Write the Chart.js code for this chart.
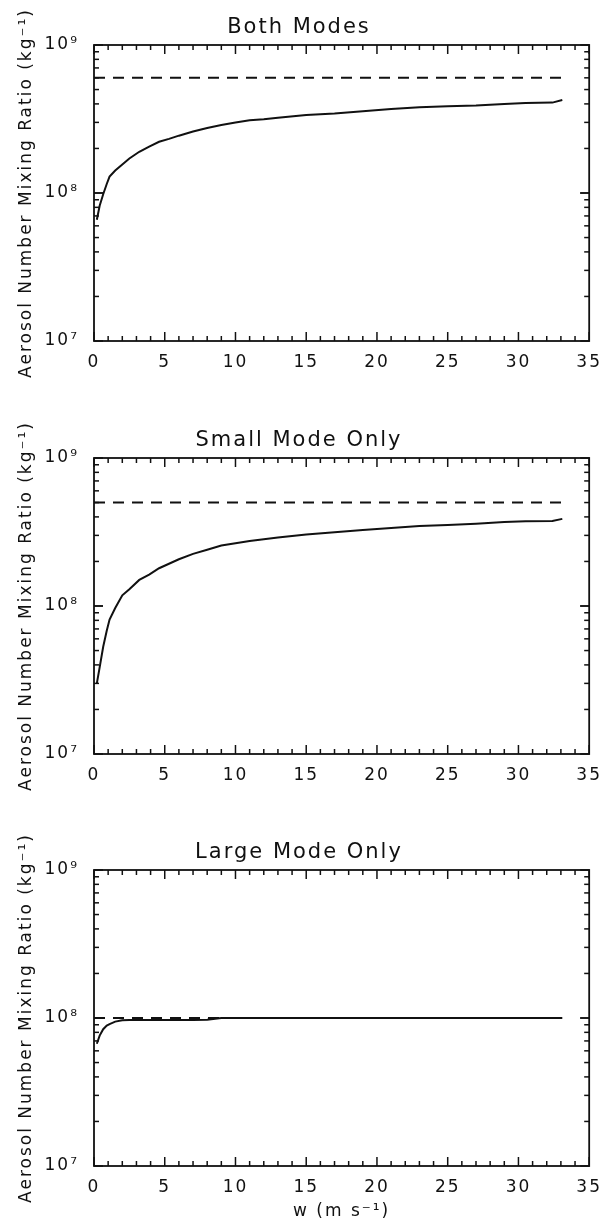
<!DOCTYPE html>
<html>
<head>
<meta charset="utf-8">
<script src="https://cdn.jsdelivr.net/npm/chart.js@4.4.1/dist/chart.umd.min.js"></script>
<style>
  html, body { margin: 0; padding: 0; background: #fff; }
  body { width: 611px; height: 1228px; position: relative; overflow: hidden; }
  canvas { position: absolute; left: 0; }
</style>
</head>
<body>
<canvas id="both" width="611" height="403" style="top:0"></canvas>
<canvas id="small" width="611" height="403" style="top:413px"></canvas>
<canvas id="large" width="611" height="403" style="top:825px"></canvas>
<script>
// updraft speed w (m s-1), shared by all three panels
const w = [0.2, 0.4, 0.65, 0.9, 1.1, 1.5, 2, 2.5, 3.2, 3.9, 4.6, 5.3, 6, 7, 8, 9, 10,
  11, 12, 13, 15, 17, 19, 21, 23, 25, 27, 29, 30.5, 32.4, 33.1];

// aerosol number mixing ratio (kg-1), solid curves
const bothModes = [6.6e7, 8.2e7, 9.8e7, 1.15e8, 1.29e8, 1.42e8, 1.56e8, 1.71e8, 1.9e8, 2.06e8,
  2.22e8, 2.32e8, 2.44e8, 2.6e8, 2.75e8, 2.88e8, 2.99e8, 3.1e8, 3.15e8, 3.23e8, 3.37e8, 3.45e8,
  3.57e8, 3.69e8, 3.8e8, 3.85e8, 3.9e8, 4.0e8, 4.05e8, 4.08e8, 4.25e8];
const smallMode = [3.0e7, 3.85e7, 5.3e7, 6.8e7, 8.1e7, 9.7e7, 1.18e8, 1.3e8, 1.5e8, 1.63e8,
  1.8e8, 1.93e8, 2.07e8, 2.25e8, 2.4e8, 2.56e8, 2.65e8, 2.75e8, 2.83e8, 2.9e8, 3.04e8, 3.15e8,
  3.26e8, 3.37e8, 3.47e8, 3.52e8, 3.6e8, 3.7e8, 3.74e8, 3.75e8, 3.88e8];
const largeMode = [6.7e7, 7.6e7, 8.4e7, 8.9e7, 9.1e7, 9.45e7, 9.65e7, 9.7e7, 9.7e7, 9.7e7,
  9.7e7, 9.7e7, 9.7e7, 9.7e7, 9.75e7, 1e8, 1e8, 1e8, 1e8, 1e8, 1e8, 1e8,
  1e8, 1e8, 1e8, 1e8, 1e8, 1e8, 1e8, 1e8, 1e8];

// dashed reference levels
const dashW = [0, 33.1];
const bothLimit = 6.0e8;
const smallLimit = 5.0e8;
const largeLimit = 1.0e8;

const yTickValues = [1e7, 1e8, 1e9];
const yTickLabels = ['10⁷', '10⁸', '10⁹'];

const INK = '#111';
const FONT = "'DejaVu Sans', sans-serif";
const Y_TITLE = 'Aerosol Number Mixing Ratio (kg⁻¹)';

// wide Hershey-like lettering
const spacing = {
  id: 'spacing',
  beforeDraw(chart) { chart.ctx.letterSpacing = '2px'; }
};

function tickLine(ctx, x0, y0, x1, y1) {
  ctx.beginPath();
  ctx.moveTo(x0, y0);
  ctx.lineTo(x1, y1);
  ctx.stroke();
}

// box with inward ticks on all four sides
const idlFrame = {
  id: 'idlFrame',
  afterDraw(chart) {
    const ctx = chart.ctx;
    const a = chart.chartArea;
    const xs = chart.scales.x;
    const ys = chart.scales.y;
    ctx.save();
    ctx.setLineDash([]);
    ctx.strokeStyle = INK;
    ctx.lineWidth = 1.8;
    ctx.strokeRect(a.left, a.top, a.right - a.left, a.bottom - a.top);
    ctx.lineWidth = 1.5;
    for (let v = 0; v <= 35; v += 1) {
      const px = xs.getPixelForValue(v);
      const len = v % 5 === 0 ? 9 : 5;
      tickLine(ctx, px, a.bottom, px, a.bottom - len);
      tickLine(ctx, px, a.top, px, a.top + len);
    }
    for (let d = 7; d <= 8; d += 1) {
      for (let m = 1; m <= 10; m += 1) {
        const py = ys.getPixelForValue(m * Math.pow(10, d));
        const len = (m === 1 || m === 10) ? 9 : 5;
        tickLine(ctx, a.left, py, a.left + len, py);
        tickLine(ctx, a.right, py, a.right - len, py);
      }
    }
    ctx.restore();
  }
};

function makeChart(id, title, values, limit, showXTitle) {
  return new Chart(document.getElementById(id), {
    type: 'scatter',
    data: {
      datasets: [
        {
          data: w.map((v, i) => ({ x: v, y: values[i] })),
          showLine: true,
          borderColor: INK,
          borderWidth: 2,
          pointRadius: 0,
          tension: 0
        },
        {
          data: dashW.map(v => ({ x: v, y: limit })),
          showLine: true,
          borderColor: INK,
          borderWidth: 2,
          borderDash: [11, 8],
          pointRadius: 0
        }
      ]
    },
    options: {
      responsive: false,
      animation: false,
      devicePixelRatio: 1,
      layout: { padding: { left: 0, right: 13, top: 0, bottom: 0 } },
      plugins: {
        legend: { display: false },
        tooltip: { enabled: false },
        title: {
          display: true,
          text: title,
          color: INK,
          font: { family: FONT, size: 21, weight: 'normal', lineHeight: 1.2 },
          padding: { top: 15, bottom: 4.8 }
        }
      },
      scales: {
        x: {
          type: 'linear',
          min: 0,
          max: 35,
          grid: { display: false, drawTicks: false },
          border: { display: false },
          ticks: {
            stepSize: 5,
            color: INK,
            maxRotation: 0,
            padding: 11,
            font: { family: FONT, size: 17 }
          },
          title: {
            display: showXTitle,
            text: 'w (m s⁻¹)',
            color: INK,
            font: { family: FONT, size: 17 },
            padding: { top: 0, bottom: 6 }
          },
          afterFit(scale) { scale.height = 62; }
        },
        y: {
          type: 'logarithmic',
          min: 1e7,
          max: 1e9,
          afterBuildTicks(scale) {
            scale.ticks = yTickValues.map(v => ({ value: v }));
          },
          grid: { display: false, drawTicks: false },
          border: { display: false },
          ticks: {
            color: INK,
            padding: 15,
            autoSkip: false,
            font: { family: FONT, size: 17 },
            callback: value => yTickLabels[yTickValues.indexOf(value)] ?? ''
          },
          title: {
            display: true,
            text: Y_TITLE,
            color: INK,
            font: { family: FONT, size: 17 },
            padding: { top: 16, bottom: 0 }
          },
          afterFit(scale) { scale.width = 94; }
        }
      }
    },
    plugins: [spacing, idlFrame]
  });
}

makeChart('both', 'Both Modes', bothModes, bothLimit, false);
makeChart('small', 'Small Mode Only', smallMode, smallLimit, false);
makeChart('large', 'Large Mode Only', largeMode, largeLimit, true);
</script>
</body>
</html>
